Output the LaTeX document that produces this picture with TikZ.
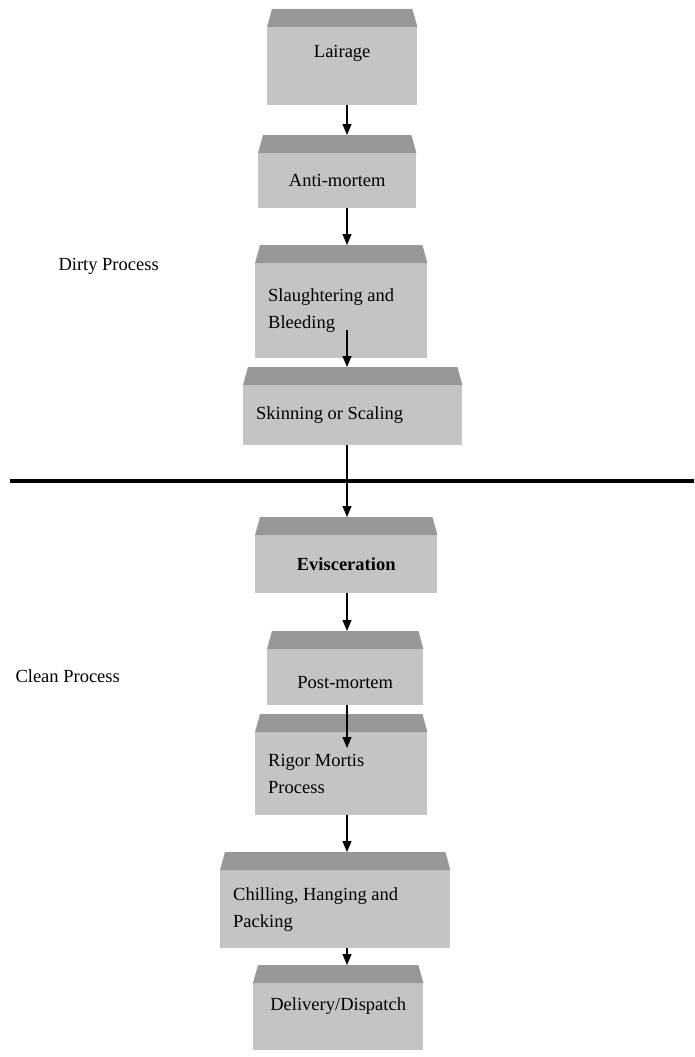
\documentclass[tikz,border=0pt]{standalone}
\usepackage{fontspec}
\setmainfont{Liberation Serif}
\usetikzlibrary{arrows.meta,calc}

\definecolor{facegray}{RGB}{196,196,196}
\definecolor{topgray}{RGB}{152,152,152}
\newcommand{\stagefont}{\fontsize{18.5}{27}\selectfont}
% darker slanted top of a stage box, and the point the arrows aim at
\newcommand{\bevel}[1]{%
  \fill[topgray] (#1.north west) -- ++(5,-18) -- ([xshift=-5pt,yshift=18pt]#1.north east) -- (#1.north east) -- cycle;
  \coordinate (#1-top) at ([yshift=18pt]#1.north);}

\tikzset{
  stage/.style={rectangle, fill=facegray, inner sep=0pt, anchor=north west, font=\stagefont},
  stageleft/.style={stage, align=flush left, inner xsep=13pt, text width=#1},
  side/.style={anchor=west, font=\stagefont},
  flow/.style={-{Triangle[width=9pt,length=11pt]}, line width=1.1pt},
}

\begin{document}
\begin{tikzpicture}[x=1pt,y=-1pt]
    \useasboundingbox (0,0) rectangle (694,1057);
    \coordinate (axis) at (347,0);

    \node[stage, minimum width=150pt, minimum height=78pt, text depth=30pt] (lairage) at (267,27) {Lairage};
    \node[stage, minimum width=158pt, minimum height=55pt] (anti) at (258,153) {Anti-mortem};
    \node[stageleft=146pt, minimum height=95pt] (slaughter) at (255,263) {Slaughtering and\\Bleeding};
    \node[stageleft=193pt, minimum height=60pt] (skinning) at (243,385) {Skinning or Scaling};
    \node[stage, minimum width=182pt, minimum height=58pt, font=\stagefont\bfseries] (evisc) at (255,535) {Evisceration};
    \node[stage, minimum width=156pt, minimum height=56pt, text height=22pt] (post) at (267,649) {Post-mortem};
    \node[stageleft=146pt, minimum height=83pt] (rigor) at (255,732) {Rigor Mortis\\Process};
    \node[stageleft=204pt, minimum height=78pt] (chilling) at (220,870) {Chilling, Hanging and\\Packing};
    \node[stage, minimum width=170pt, minimum height=67pt, text depth=26pt] (delivery) at (253,983) {Delivery/Dispatch};

    \bevel{lairage}
    \bevel{anti}
    \bevel{slaughter}
    \bevel{skinning}
    \bevel{evisc}
    \bevel{post}
    \bevel{rigor}
    \bevel{chilling}
    \bevel{delivery}

    \draw[line width=4pt] (10,481) -- (694,481);

    \node[side] (dirty) at (55,266) {Dirty Process};
    \node[side] (clean) at (12,676) {Clean Process};

    \draw[flow] (lairage.south -| axis) -- (anti-top -| axis);
    \draw[flow] (anti.south -| axis) -- (slaughter-top -| axis);
    \draw[flow] ($(slaughter.south -| axis)+(0,-28)$) -- (skinning-top -| axis);
    \draw[flow] (skinning.south -| axis) -- (evisc-top -| axis);
    \draw[flow] (evisc.south -| axis) -- (post-top -| axis);
    \draw[flow] (post.south -| axis) -- ($(rigor.north -| axis)+(0,16)$);
    \draw[flow] (rigor.south -| axis) -- (chilling-top -| axis);
    \draw[flow] (chilling.south -| axis) -- (delivery-top -| axis);
\end{tikzpicture}
\end{document}
